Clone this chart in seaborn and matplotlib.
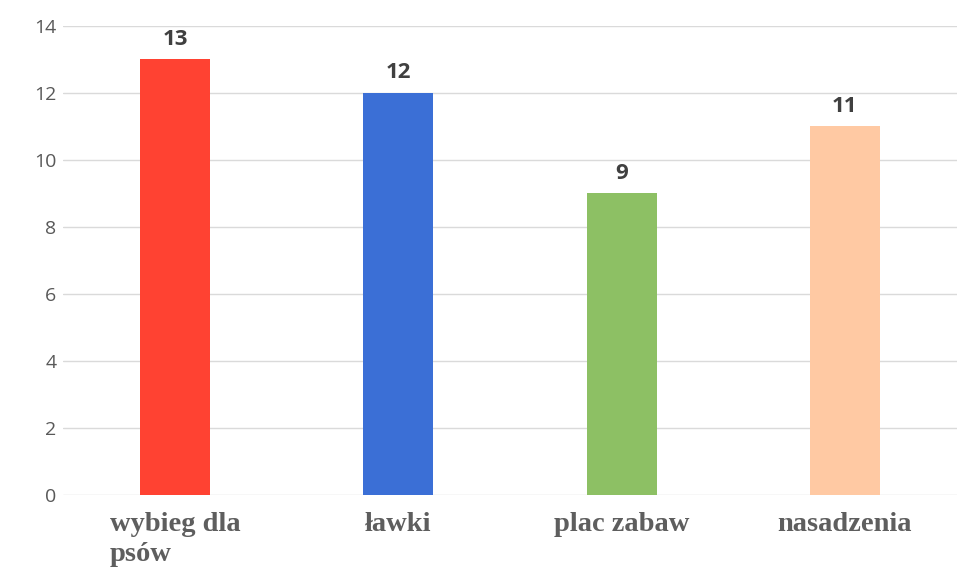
import matplotlib
matplotlib.use("Agg")
import matplotlib.pyplot as plt
import seaborn as sns
import pandas as pd

# data
categories = ["wybieg dla\npsów", "ławki", "plac zabaw", "nasadzenia"]
values = [13, 12, 9, 11]
colors = ["#FF4232", "#3B6FD6", "#8DC064", "#FFC9A3"]
y_ticks = [0, 2, 4, 6, 8, 10, 12, 14]

df = pd.DataFrame({"kategoria": categories, "liczba": values})

sns.set_theme(style="white")
plt.rcParams["font.family"] = ["Open Sans", "DejaVu Sans"]

fig = plt.figure(figsize=(9.66, 5.85), dpi=100)
ax = fig.add_axes([0.0657, 0.154, 0.9245, 0.8016])

sns.barplot(data=df, x="kategoria", y="liczba", hue="kategoria",
            palette=colors, width=0.314, legend=False, ax=ax,
            saturation=1, edgecolor="none")

# value labels on top of the bars
for cont in ax.containers:
    ax.bar_label(cont, padding=7, fontsize=16, fontweight="bold", color="#404040")

ax.set_ylim(0, 14)
ax.set_xlim(-0.5, 3.5)
ax.set_yticks(y_ticks)
ax.yaxis.grid(True, color="#DADADA", linewidth=1)
ax.set_axisbelow(True)
ax.set_xlabel("")
ax.set_ylabel("")
for s in ax.spines.values():
    s.set_visible(False)

ax.tick_params(axis="y", length=0, pad=5, labelsize=14, labelcolor="#595959")
ax.tick_params(axis="x", length=0, pad=12)
for lab in ax.get_xticklabels():
    lab.set_fontfamily(["Liberation Serif", "DejaVu Serif"])
    lab.set_fontweight("bold")
    lab.set_fontsize(20.5)
    lab.set_color("#5E5E5E")
    lab.set_verticalalignment("top")
    lab.set_multialignment("left")
    lab.set_linespacing(1.3)

fig.savefig("out.png", dpi=100)
